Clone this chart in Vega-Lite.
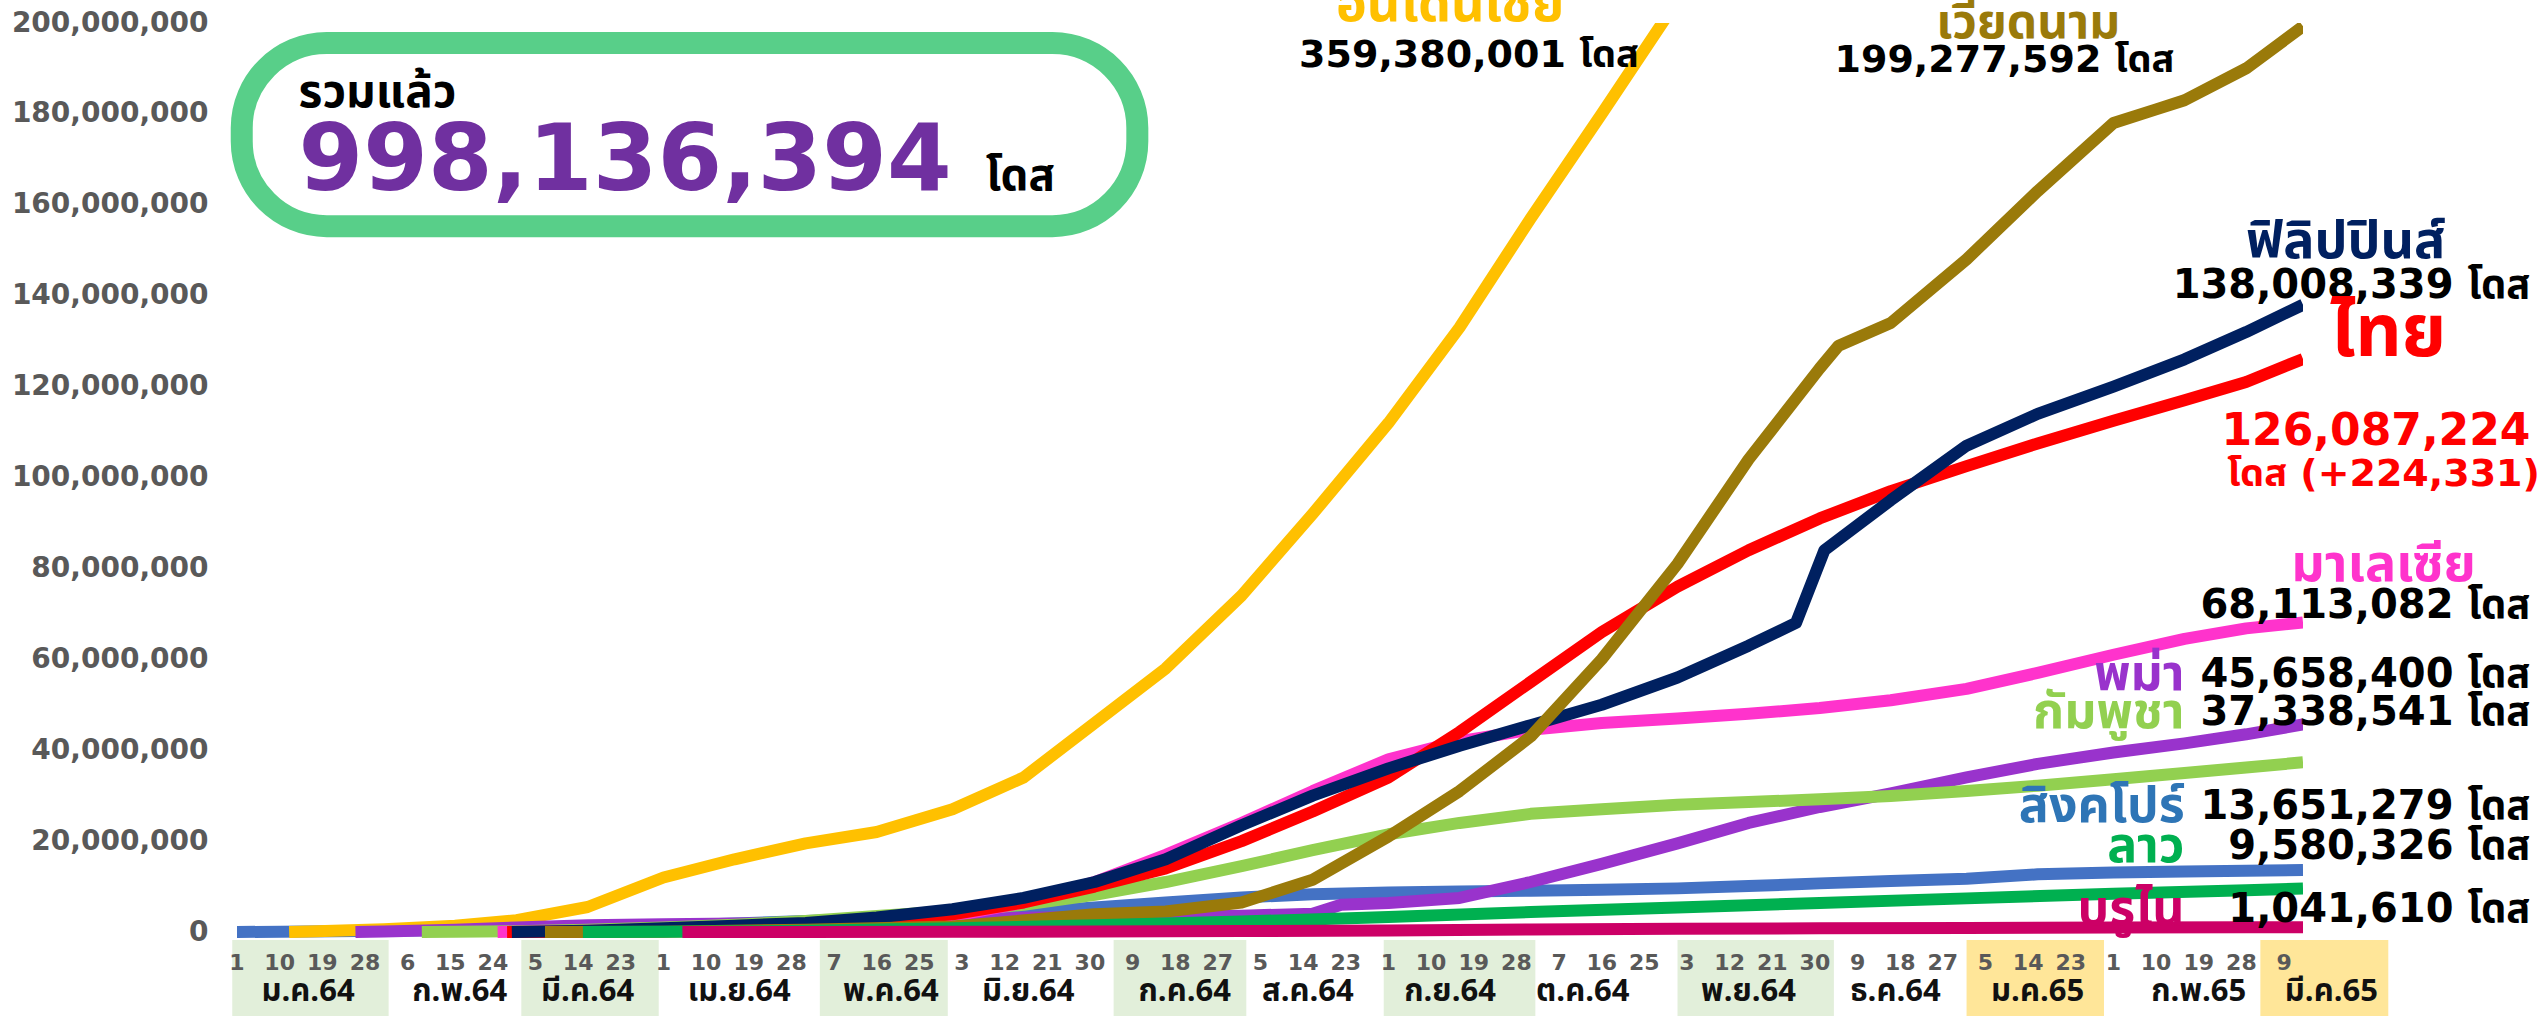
{
  "$schema": "https://vega.github.io/schema/vega-lite/v6.json",
  "width": 2066,
  "height": 993,
  "autosize": "none",
  "padding": {"left": 237, "top": 23, "right": 244, "bottom": 0},
  "background": "white",
  "config": {"view": {"stroke": null}, "font": "DejaVu Sans"},
  "layer": [
    {
      "data": {"values": [
        {"month": "ม.ค.64", "start": "2020-12-31", "end": "2021-02-02", "tone": "g"},
        {"month": "มี.ค.64", "start": "2021-03-02", "end": "2021-03-31", "tone": "g"},
        {"month": "พ.ค.64", "start": "2021-05-04", "end": "2021-05-31", "tone": "g"},
        {"month": "ก.ค.64", "start": "2021-07-05", "end": "2021-08-02", "tone": "g"},
        {"month": "ก.ย.64", "start": "2021-08-31", "end": "2021-10-02", "tone": "g"},
        {"month": "พ.ย.64", "start": "2021-11-01", "end": "2021-12-04", "tone": "g"},
        {"month": "ม.ค.65", "start": "2022-01-01", "end": "2022-01-30", "tone": "y"},
        {"month": "มี.ค.65", "start": "2022-03-04", "end": "2022-03-31", "tone": "y"}
      ]},
      "mark": {"type": "rect"},
      "encoding": {
        "x": {"field": "start", "type": "temporal",
              "scale": {"type": "utc", "domain": [{"year": 2021, "month": 1, "date": 1, "utc": true}, {"year": 2022, "month": 3, "date": 13, "utc": true}]},
              "axis": null},
        "x2": {"field": "end"},
        "y": {"datum": -1760000, "type": "quantitative",
              "scale": {"domain": [-18480000, 200000000], "nice": false, "zero": false},
              "axis": {"values": [0, 20000000, 40000000, 60000000, 80000000, 100000000, 120000000, 140000000, 160000000, 180000000, 200000000],
                       "format": ",d", "title": null, "domain": false, "ticks": false, "labelPadding": 29, "labelLimit": 400,
                       "labelFont": "DejaVu Sans", "labelFontWeight": "bold", "labelFontSize": 28, "labelColor": "#595959",
                       "gridColor": "#D9D9D9", "gridWidth": 3}},
        "y2": {"datum": -18480000},
        "fill": {"field": "tone", "type": "nominal", "scale": {"domain": ["g", "y"], "range": ["#E2EFDA", "#FFE699"]}, "legend": null}
      }
    },
    {
      "data": {"values": [
        {"date": "2021-01-01"}, {"date": "2021-01-10"}, {"date": "2021-01-19"}, {"date": "2021-01-28"},
        {"date": "2021-02-06"}, {"date": "2021-02-15"}, {"date": "2021-02-24"},
        {"date": "2021-03-05"}, {"date": "2021-03-14"}, {"date": "2021-03-23"},
        {"date": "2021-04-01"}, {"date": "2021-04-10"}, {"date": "2021-04-19"}, {"date": "2021-04-28"},
        {"date": "2021-05-07"}, {"date": "2021-05-16"}, {"date": "2021-05-25"},
        {"date": "2021-06-03"}, {"date": "2021-06-12"}, {"date": "2021-06-21"}, {"date": "2021-06-30"},
        {"date": "2021-07-09"}, {"date": "2021-07-18"}, {"date": "2021-07-27"},
        {"date": "2021-08-05"}, {"date": "2021-08-14"}, {"date": "2021-08-23"},
        {"date": "2021-09-01"}, {"date": "2021-09-10"}, {"date": "2021-09-19"}, {"date": "2021-09-28"},
        {"date": "2021-10-07"}, {"date": "2021-10-16"}, {"date": "2021-10-25"},
        {"date": "2021-11-03"}, {"date": "2021-11-12"}, {"date": "2021-11-21"}, {"date": "2021-11-30"},
        {"date": "2021-12-09"}, {"date": "2021-12-18"}, {"date": "2021-12-27"},
        {"date": "2022-01-05"}, {"date": "2022-01-14"}, {"date": "2022-01-23"},
        {"date": "2022-02-01"}, {"date": "2022-02-10"}, {"date": "2022-02-19"}, {"date": "2022-02-28"},
        {"date": "2022-03-09"}
      ]},
      "mark": {"type": "text", "font": "DejaVu Sans", "fontWeight": "bold", "fontSize": 22, "color": "#595959", "baseline": "middle", "align": "center"},
      "encoding": {
        "x": {"field": "date", "type": "temporal"},
        "y": {"datum": -6900000, "type": "quantitative"},
        "text": {"field": "date", "type": "temporal", "timeUnit": "utcyearmonthdate", "format": "%-d"}
      }
    },
    {
      "data": {"values": [
        {"month": "ม.ค.64", "mid": "2021-01-16"}, {"month": "ก.พ.64", "mid": "2021-02-17"},
        {"month": "มี.ค.64", "mid": "2021-03-16"}, {"month": "เม.ย.64", "mid": "2021-04-17"},
        {"month": "พ.ค.64", "mid": "2021-05-19"}, {"month": "มิ.ย.64", "mid": "2021-06-17"},
        {"month": "ก.ค.64", "mid": "2021-07-20"}, {"month": "ส.ค.64", "mid": "2021-08-15"},
        {"month": "ก.ย.64", "mid": "2021-09-14"}, {"month": "ต.ค.64", "mid": "2021-10-12"},
        {"month": "พ.ย.64", "mid": "2021-11-16"}, {"month": "ธ.ค.64", "mid": "2021-12-17"},
        {"month": "ม.ค.65", "mid": "2022-01-16"}, {"month": "ก.พ.65", "mid": "2022-02-19"},
        {"month": "มี.ค.65", "mid": "2022-03-19"}
      ]},
      "mark": {"type": "text", "font": "Noto Sans Thai, Noto Sans, DejaVu Sans, sans-serif", "fontWeight": "bold", "fontSize": 31, "color": "#111111", "baseline": "middle", "align": "center"},
      "encoding": {
        "x": {"field": "mid", "type": "temporal"},
        "y": {"datum": -13300000, "type": "quantitative"},
        "text": {"field": "month", "type": "nominal"}
      }
    },
    {
      "data": {"values": [
        {"country": "สิงคโปร์", "date": "2021-01-01", "doses": 0},
        {"country": "สิงคโปร์", "date": "2021-01-16", "doses": 120000},
        {"country": "สิงคโปร์", "date": "2021-02-01", "doses": 250000},
        {"country": "สิงคโปร์", "date": "2021-02-16", "doses": 450000},
        {"country": "สิงคโปร์", "date": "2021-03-01", "doses": 700000},
        {"country": "สิงคโปร์", "date": "2021-03-16", "doses": 1000000},
        {"country": "สิงคโปร์", "date": "2021-04-01", "doses": 1400000},
        {"country": "สิงคโปร์", "date": "2021-04-16", "doses": 1900000},
        {"country": "สิงคโปร์", "date": "2021-05-01", "doses": 2400000},
        {"country": "สิงคโปร์", "date": "2021-05-16", "doses": 2900000},
        {"country": "สิงคโปร์", "date": "2021-06-01", "doses": 3500000},
        {"country": "สิงคโปร์", "date": "2021-06-16", "doses": 4300000},
        {"country": "สิงคโปร์", "date": "2021-07-01", "doses": 5400000},
        {"country": "สิงคโปร์", "date": "2021-07-16", "doses": 6500000},
        {"country": "สิงคโปร์", "date": "2021-08-01", "doses": 7600000},
        {"country": "สิงคโปร์", "date": "2021-08-16", "doses": 8300000},
        {"country": "สิงคโปร์", "date": "2021-09-01", "doses": 8700000},
        {"country": "สิงคโปร์", "date": "2021-09-16", "doses": 8900000},
        {"country": "สิงคโปร์", "date": "2021-10-01", "doses": 9100000},
        {"country": "สิงคโปร์", "date": "2021-10-16", "doses": 9300000},
        {"country": "สิงคโปร์", "date": "2021-11-01", "doses": 9600000},
        {"country": "สิงคโปร์", "date": "2021-11-16", "doses": 10100000},
        {"country": "สิงคโปร์", "date": "2021-12-01", "doses": 10700000},
        {"country": "สิงคโปร์", "date": "2021-12-16", "doses": 11200000},
        {"country": "สิงคโปร์", "date": "2022-01-01", "doses": 11700000},
        {"country": "สิงคโปร์", "date": "2022-01-16", "doses": 12700000},
        {"country": "สิงคโปร์", "date": "2022-02-01", "doses": 13100000},
        {"country": "สิงคโปร์", "date": "2022-02-16", "doses": 13300000},
        {"country": "สิงคโปร์", "date": "2022-03-01", "doses": 13500000},
        {"country": "สิงคโปร์", "date": "2022-03-13", "doses": 13651279},
        {"country": "อินโดนีเซีย", "date": "2021-01-12", "doses": 0},
        {"country": "อินโดนีเซีย", "date": "2021-01-16", "doses": 100000},
        {"country": "อินโดนีเซีย", "date": "2021-02-01", "doses": 600000},
        {"country": "อินโดนีเซีย", "date": "2021-02-16", "doses": 1400000},
        {"country": "อินโดนีเซีย", "date": "2021-03-01", "doses": 2600000},
        {"country": "อินโดนีเซีย", "date": "2021-03-16", "doses": 5500000},
        {"country": "อินโดนีเซีย", "date": "2021-04-01", "doses": 12000000},
        {"country": "อินโดนีเซีย", "date": "2021-04-16", "doses": 16000000},
        {"country": "อินโดนีเซีย", "date": "2021-05-01", "doses": 19500000},
        {"country": "อินโดนีเซีย", "date": "2021-05-16", "doses": 22000000},
        {"country": "อินโดนีเซีย", "date": "2021-06-01", "doses": 27000000},
        {"country": "อินโดนีเซีย", "date": "2021-06-16", "doses": 34000000},
        {"country": "อินโดนีเซีย", "date": "2021-07-01", "doses": 46000000},
        {"country": "อินโดนีเซีย", "date": "2021-07-16", "doses": 58000000},
        {"country": "อินโดนีเซีย", "date": "2021-08-01", "doses": 74000000},
        {"country": "อินโดนีเซีย", "date": "2021-08-16", "doses": 92000000},
        {"country": "อินโดนีเซีย", "date": "2021-09-01", "doses": 112000000},
        {"country": "อินโดนีเซีย", "date": "2021-09-16", "doses": 133000000},
        {"country": "อินโดนีเซีย", "date": "2021-10-01", "doses": 157000000},
        {"country": "อินโดนีเซีย", "date": "2021-10-16", "doses": 180000000},
        {"country": "อินโดนีเซีย", "date": "2021-11-01", "doses": 205000000},
        {"country": "อินโดนีเซีย", "date": "2021-11-16", "doses": 222000000},
        {"country": "อินโดนีเซีย", "date": "2021-12-01", "doses": 240000000},
        {"country": "อินโดนีเซีย", "date": "2021-12-16", "doses": 259000000},
        {"country": "อินโดนีเซีย", "date": "2022-01-01", "doses": 280000000},
        {"country": "อินโดนีเซีย", "date": "2022-01-16", "doses": 297000000},
        {"country": "อินโดนีเซีย", "date": "2022-02-01", "doses": 314000000},
        {"country": "อินโดนีเซีย", "date": "2022-02-16", "doses": 330000000},
        {"country": "อินโดนีเซีย", "date": "2022-03-01", "doses": 346000000},
        {"country": "อินโดนีเซีย", "date": "2022-03-13", "doses": 359380001},
        {"country": "พม่า", "date": "2021-01-26", "doses": 0},
        {"country": "พม่า", "date": "2021-02-01", "doses": 100000},
        {"country": "พม่า", "date": "2021-02-16", "doses": 500000},
        {"country": "พม่า", "date": "2021-03-01", "doses": 1000000},
        {"country": "พม่า", "date": "2021-03-16", "doses": 1500000},
        {"country": "พม่า", "date": "2021-04-01", "doses": 1700000},
        {"country": "พม่า", "date": "2021-05-01", "doses": 2000000},
        {"country": "พม่า", "date": "2021-06-01", "doses": 3000000},
        {"country": "พม่า", "date": "2021-07-01", "doses": 3300000},
        {"country": "พม่า", "date": "2021-08-01", "doses": 3600000},
        {"country": "พม่า", "date": "2021-08-16", "doses": 4000000},
        {"country": "พม่า", "date": "2021-08-22", "doses": 6000000},
        {"country": "พม่า", "date": "2021-09-01", "doses": 6400000},
        {"country": "พม่า", "date": "2021-09-16", "doses": 7500000},
        {"country": "พม่า", "date": "2021-10-01", "doses": 11000000},
        {"country": "พม่า", "date": "2021-10-16", "doses": 15000000},
        {"country": "พม่า", "date": "2021-11-01", "doses": 19500000},
        {"country": "พม่า", "date": "2021-11-16", "doses": 24000000},
        {"country": "พม่า", "date": "2021-12-01", "doses": 27500000},
        {"country": "พม่า", "date": "2021-12-16", "doses": 30500000},
        {"country": "พม่า", "date": "2022-01-01", "doses": 34000000},
        {"country": "พม่า", "date": "2022-01-16", "doses": 37000000},
        {"country": "พม่า", "date": "2022-02-01", "doses": 39500000},
        {"country": "พม่า", "date": "2022-02-16", "doses": 41500000},
        {"country": "พม่า", "date": "2022-03-01", "doses": 43500000},
        {"country": "พม่า", "date": "2022-03-13", "doses": 45658400},
        {"country": "กัมพูชา", "date": "2021-02-09", "doses": 0},
        {"country": "กัมพูชา", "date": "2021-02-16", "doses": 50000},
        {"country": "กัมพูชา", "date": "2021-03-01", "doses": 150000},
        {"country": "กัมพูชา", "date": "2021-03-16", "doses": 500000},
        {"country": "กัมพูชา", "date": "2021-04-01", "doses": 1000000},
        {"country": "กัมพูชา", "date": "2021-04-16", "doses": 1600000},
        {"country": "กัมพูชา", "date": "2021-05-01", "doses": 2400000},
        {"country": "กัมพูชา", "date": "2021-05-16", "doses": 3500000},
        {"country": "กัมพูชา", "date": "2021-06-01", "doses": 4600000},
        {"country": "กัมพูชา", "date": "2021-06-16", "doses": 6000000},
        {"country": "กัมพูชา", "date": "2021-07-01", "doses": 8200000},
        {"country": "กัมพูชา", "date": "2021-07-16", "doses": 11000000},
        {"country": "กัมพูชา", "date": "2021-08-01", "doses": 14500000},
        {"country": "กัมพูชา", "date": "2021-08-16", "doses": 18000000},
        {"country": "กัมพูชา", "date": "2021-09-01", "doses": 21500000},
        {"country": "กัมพูชา", "date": "2021-09-16", "doses": 24000000},
        {"country": "กัมพูชา", "date": "2021-10-01", "doses": 26000000},
        {"country": "กัมพูชา", "date": "2021-10-16", "doses": 27000000},
        {"country": "กัมพูชา", "date": "2021-11-01", "doses": 28000000},
        {"country": "กัมพูชา", "date": "2021-11-16", "doses": 28600000},
        {"country": "กัมพูชา", "date": "2021-12-01", "doses": 29200000},
        {"country": "กัมพูชา", "date": "2021-12-16", "doses": 29900000},
        {"country": "กัมพูชา", "date": "2022-01-01", "doses": 31000000},
        {"country": "กัมพูชา", "date": "2022-01-16", "doses": 32200000},
        {"country": "กัมพูชา", "date": "2022-02-01", "doses": 33600000},
        {"country": "กัมพูชา", "date": "2022-02-16", "doses": 35000000},
        {"country": "กัมพูชา", "date": "2022-03-01", "doses": 36200000},
        {"country": "กัมพูชา", "date": "2022-03-13", "doses": 37338541},
        {"country": "มาเลเซีย", "date": "2021-02-25", "doses": 0},
        {"country": "มาเลเซีย", "date": "2021-03-01", "doses": 50000},
        {"country": "มาเลเซีย", "date": "2021-03-16", "doses": 300000},
        {"country": "มาเลเซีย", "date": "2021-04-01", "doses": 600000},
        {"country": "มาเลเซีย", "date": "2021-04-16", "doses": 900000},
        {"country": "มาเลเซีย", "date": "2021-05-01", "doses": 1400000},
        {"country": "มาเลเซีย", "date": "2021-05-16", "doses": 2200000},
        {"country": "มาเลเซีย", "date": "2021-06-01", "doses": 3500000},
        {"country": "มาเลเซีย", "date": "2021-06-16", "doses": 6500000},
        {"country": "มาเลเซีย", "date": "2021-07-01", "doses": 11000000},
        {"country": "มาเลเซีย", "date": "2021-07-16", "doses": 17000000},
        {"country": "มาเลเซีย", "date": "2021-08-01", "doses": 24000000},
        {"country": "มาเลเซีย", "date": "2021-08-16", "doses": 31000000},
        {"country": "มาเลเซีย", "date": "2021-09-01", "doses": 38000000},
        {"country": "มาเลเซีย", "date": "2021-09-16", "doses": 42000000},
        {"country": "มาเลเซีย", "date": "2021-10-01", "doses": 44500000},
        {"country": "มาเลเซีย", "date": "2021-10-16", "doses": 46000000},
        {"country": "มาเลเซีย", "date": "2021-11-01", "doses": 47000000},
        {"country": "มาเลเซีย", "date": "2021-11-16", "doses": 48000000},
        {"country": "มาเลเซีย", "date": "2021-12-01", "doses": 49300000},
        {"country": "มาเลเซีย", "date": "2021-12-16", "doses": 51000000},
        {"country": "มาเลเซีย", "date": "2022-01-01", "doses": 53500000},
        {"country": "มาเลเซีย", "date": "2022-01-16", "doses": 57000000},
        {"country": "มาเลเซีย", "date": "2022-02-01", "doses": 61000000},
        {"country": "มาเลเซีย", "date": "2022-02-16", "doses": 64500000},
        {"country": "มาเลเซีย", "date": "2022-03-01", "doses": 66800000},
        {"country": "มาเลเซีย", "date": "2022-03-13", "doses": 68113082},
        {"country": "ไทย", "date": "2021-02-27", "doses": 0},
        {"country": "ไทย", "date": "2021-03-16", "doses": 50000},
        {"country": "ไทย", "date": "2021-04-01", "doses": 150000},
        {"country": "ไทย", "date": "2021-04-16", "doses": 600000},
        {"country": "ไทย", "date": "2021-05-01", "doses": 1300000},
        {"country": "ไทย", "date": "2021-05-16", "doses": 2400000},
        {"country": "ไทย", "date": "2021-06-01", "doses": 3900000},
        {"country": "ไทย", "date": "2021-06-16", "doses": 6500000},
        {"country": "ไทย", "date": "2021-07-01", "doses": 10000000},
        {"country": "ไทย", "date": "2021-07-16", "doses": 14000000},
        {"country": "ไทย", "date": "2021-08-01", "doses": 20000000},
        {"country": "ไทย", "date": "2021-08-16", "doses": 26500000},
        {"country": "ไทย", "date": "2021-09-01", "doses": 34000000},
        {"country": "ไทย", "date": "2021-09-16", "doses": 44000000},
        {"country": "ไทย", "date": "2021-10-01", "doses": 55000000},
        {"country": "ไทย", "date": "2021-10-16", "doses": 66000000},
        {"country": "ไทย", "date": "2021-11-01", "doses": 76000000},
        {"country": "ไทย", "date": "2021-11-16", "doses": 84000000},
        {"country": "ไทย", "date": "2021-12-01", "doses": 91000000},
        {"country": "ไทย", "date": "2021-12-16", "doses": 97000000},
        {"country": "ไทย", "date": "2022-01-01", "doses": 102500000},
        {"country": "ไทย", "date": "2022-01-16", "doses": 107500000},
        {"country": "ไทย", "date": "2022-02-01", "doses": 112500000},
        {"country": "ไทย", "date": "2022-02-16", "doses": 117000000},
        {"country": "ไทย", "date": "2022-03-01", "doses": 121000000},
        {"country": "ไทย", "date": "2022-03-13", "doses": 126087224},
        {"country": "ฟิลิปปินส์", "date": "2021-02-28", "doses": 0},
        {"country": "ฟิลิปปินส์", "date": "2021-03-16", "doses": 300000},
        {"country": "ฟิลิปปินส์", "date": "2021-04-01", "doses": 800000},
        {"country": "ฟิลิปปินส์", "date": "2021-04-16", "doses": 1400000},
        {"country": "ฟิลิปปินส์", "date": "2021-05-01", "doses": 2000000},
        {"country": "ฟิลิปปินส์", "date": "2021-05-16", "doses": 3200000},
        {"country": "ฟิลิปปินส์", "date": "2021-06-01", "doses": 5000000},
        {"country": "ฟิลิปปินส์", "date": "2021-06-16", "doses": 7500000},
        {"country": "ฟิลิปปินส์", "date": "2021-07-01", "doses": 11000000},
        {"country": "ฟิลิปปินส์", "date": "2021-07-16", "doses": 16000000},
        {"country": "ฟิลิปปินส์", "date": "2021-08-01", "doses": 23500000},
        {"country": "ฟิลิปปินส์", "date": "2021-08-16", "doses": 30000000},
        {"country": "ฟิลิปปินส์", "date": "2021-09-01", "doses": 36000000},
        {"country": "ฟิลิปปินส์", "date": "2021-09-16", "doses": 41000000},
        {"country": "ฟิลิปปินส์", "date": "2021-10-01", "doses": 45500000},
        {"country": "ฟิลิปปินส์", "date": "2021-10-16", "doses": 50000000},
        {"country": "ฟิลิปปินส์", "date": "2021-11-01", "doses": 56000000},
        {"country": "ฟิลิปปินส์", "date": "2021-11-16", "doses": 63000000},
        {"country": "ฟิลิปปินส์", "date": "2021-11-26", "doses": 68000000},
        {"country": "ฟิลิปปินส์", "date": "2021-12-02", "doses": 84000000},
        {"country": "ฟิลิปปินส์", "date": "2021-12-16", "doses": 95000000},
        {"country": "ฟิลิปปินส์", "date": "2022-01-01", "doses": 107000000},
        {"country": "ฟิลิปปินส์", "date": "2022-01-16", "doses": 114000000},
        {"country": "ฟิลิปปินส์", "date": "2022-02-01", "doses": 120000000},
        {"country": "ฟิลิปปินส์", "date": "2022-02-16", "doses": 126000000},
        {"country": "ฟิลิปปินส์", "date": "2022-03-01", "doses": 132000000},
        {"country": "ฟิลิปปินส์", "date": "2022-03-13", "doses": 138008339},
        {"country": "เวียดนาม", "date": "2021-03-07", "doses": 0},
        {"country": "เวียดนาม", "date": "2021-04-01", "doses": 50000},
        {"country": "เวียดนาม", "date": "2021-05-01", "doses": 500000},
        {"country": "เวียดนาม", "date": "2021-06-01", "doses": 1200000},
        {"country": "เวียดนาม", "date": "2021-07-01", "doses": 3900000},
        {"country": "เวียดนาม", "date": "2021-07-16", "doses": 4500000},
        {"country": "เวียดนาม", "date": "2021-08-01", "doses": 6500000},
        {"country": "เวียดนาม", "date": "2021-08-16", "doses": 11500000},
        {"country": "เวียดนาม", "date": "2021-09-01", "doses": 21000000},
        {"country": "เวียดนาม", "date": "2021-09-16", "doses": 31000000},
        {"country": "เวียดนาม", "date": "2021-10-01", "doses": 43000000},
        {"country": "เวียดนาม", "date": "2021-10-16", "doses": 60000000},
        {"country": "เวียดนาม", "date": "2021-11-01", "doses": 81000000},
        {"country": "เวียดนาม", "date": "2021-11-16", "doses": 104000000},
        {"country": "เวียดนาม", "date": "2021-12-01", "doses": 124000000},
        {"country": "เวียดนาม", "date": "2021-12-05", "doses": 129000000},
        {"country": "เวียดนาม", "date": "2021-12-16", "doses": 134000000},
        {"country": "เวียดนาม", "date": "2022-01-01", "doses": 148000000},
        {"country": "เวียดนาม", "date": "2022-01-16", "doses": 163000000},
        {"country": "เวียดนาม", "date": "2022-02-01", "doses": 178000000},
        {"country": "เวียดนาม", "date": "2022-02-10", "doses": 181000000},
        {"country": "เวียดนาม", "date": "2022-02-16", "doses": 183000000},
        {"country": "เวียดนาม", "date": "2022-03-01", "doses": 190000000},
        {"country": "เวียดนาม", "date": "2022-03-13", "doses": 199277592},
        {"country": "ลาว", "date": "2021-03-15", "doses": 0},
        {"country": "ลาว", "date": "2021-04-01", "doses": 50000},
        {"country": "ลาว", "date": "2021-05-01", "doses": 250000},
        {"country": "ลาว", "date": "2021-06-01", "doses": 800000},
        {"country": "ลาว", "date": "2021-07-01", "doses": 1500000},
        {"country": "ลาว", "date": "2021-08-01", "doses": 2300000},
        {"country": "ลาว", "date": "2021-09-01", "doses": 3300000},
        {"country": "ลาว", "date": "2021-10-01", "doses": 4400000},
        {"country": "ลาว", "date": "2021-11-01", "doses": 5400000},
        {"country": "ลาว", "date": "2021-12-01", "doses": 6400000},
        {"country": "ลาว", "date": "2022-01-01", "doses": 7400000},
        {"country": "ลาว", "date": "2022-02-01", "doses": 8400000},
        {"country": "ลาว", "date": "2022-03-01", "doses": 9200000},
        {"country": "ลาว", "date": "2022-03-13", "doses": 9580326},
        {"country": "บรูไน", "date": "2021-04-05", "doses": 0},
        {"country": "บรูไน", "date": "2021-05-01", "doses": 20000},
        {"country": "บรูไน", "date": "2021-06-01", "doses": 50000},
        {"country": "บรูไน", "date": "2021-07-01", "doses": 100000},
        {"country": "บรูไน", "date": "2021-08-01", "doses": 200000},
        {"country": "บรูไน", "date": "2021-09-01", "doses": 350000},
        {"country": "บรูไน", "date": "2021-10-01", "doses": 550000},
        {"country": "บรูไน", "date": "2021-11-01", "doses": 700000},
        {"country": "บรูไน", "date": "2021-12-01", "doses": 820000},
        {"country": "บรูไน", "date": "2022-01-01", "doses": 900000},
        {"country": "บรูไน", "date": "2022-02-01", "doses": 970000},
        {"country": "บรูไน", "date": "2022-03-01", "doses": 1020000},
        {"country": "บรูไน", "date": "2022-03-13", "doses": 1041610}
      ]},
      "mark": {"type": "line", "clip": true, "strokeCap": "butt", "strokeJoin": "round"},
      "encoding": {
        "x": {"field": "date", "type": "temporal"},
        "y": {"field": "doses", "type": "quantitative"},
        "stroke": {"field": "country", "type": "nominal", "legend": null,
                   "scale": {"domain": ["สิงคโปร์", "อินโดนีเซีย", "พม่า", "กัมพูชา", "มาเลเซีย", "ไทย", "ฟิลิปปินส์", "เวียดนาม", "ลาว", "บรูไน"],
                             "range": ["#4472C4", "#FFC000", "#9933CC", "#92D050", "#FF33CC", "#FF0000", "#002060", "#9A7A0A", "#00B050", "#CC0066"]}},
        "strokeWidth": {"field": "country", "type": "nominal", "legend": null,
                        "scale": {"domain": ["สิงคโปร์", "อินโดนีเซีย", "พม่า", "กัมพูชา", "มาเลเซีย", "ไทย", "ฟิลิปปินส์", "เวียดนาม", "ลาว", "บรูไน"],
                                  "range": [12, 12, 12, 12, 12, 17, 12, 12, 12, 12]}}
      }
    },
    {
      "data": {"values": [{}]},
      "mark": {"type": "rect", "fill": "white", "stroke": "#58CF89", "strokeWidth": 22, "cornerRadius": 85},
      "encoding": {
        "x": {"datum": {"year": 2021, "month": 1, "date": 2, "utc": true}, "type": "temporal"},
        "x2": {"datum": {"year": 2021, "month": 7, "date": 10, "utc": true}},
        "y": {"datum": 195600000, "type": "quantitative"},
        "y2": {"datum": 155300000}
      }
    },
    {
      "data": {"values": [{}]},
      "mark": {"type": "text", "text": "รวมแล้ว", "font": "Noto Sans Thai, Noto Sans, sans-serif", "fontWeight": "bold", "fontSize": 46, "color": "#000000", "align": "left", "baseline": "middle"},
      "encoding": {"x": {"datum": {"year": 2021, "month": 1, "date": 14, "utc": true}, "type": "temporal"}, "y": {"datum": 184500000, "type": "quantitative"}}
    },
    {
      "data": {"values": [{}]},
      "mark": {"type": "text", "text": "998,136,394", "font": "DejaVu Sans", "fontWeight": "bold", "fontSize": 93, "color": "#7030A0", "align": "left", "baseline": "alphabetic"},
      "encoding": {"x": {"datum": {"year": 2021, "month": 1, "date": 14, "utc": true}, "type": "temporal"}, "y": {"datum": 163200000, "type": "quantitative"}}
    },
    {
      "data": {"values": [{}]},
      "mark": {"type": "text", "text": "โดส", "font": "Noto Sans Thai, Noto Sans, sans-serif", "fontWeight": "bold", "fontSize": 44, "color": "#000000", "align": "left", "baseline": "alphabetic"},
      "encoding": {"x": {"datum": {"year": 2021, "month": 6, "date": 8, "utc": true}, "type": "temporal"}, "y": {"datum": 163200000, "type": "quantitative"}}
    },
    {
      "data": {"values": [{}]},
      "mark": {"type": "text", "text": "อินโดนีเซีย", "font": "Noto Sans Thai, Noto Sans, sans-serif", "fontWeight": "bold", "fontSize": 52, "color": "#FFC000", "align": "center", "baseline": "middle"},
      "encoding": {"x": {"datum": {"year": 2021, "month": 9, "date": 14, "utc": true}, "type": "temporal"}, "y": {"datum": 204000000, "type": "quantitative"}}
    },
    {
      "data": {"values": [{}]},
      "mark": {"type": "text", "text": "359,380,001 โดส", "font": "DejaVu Sans, Noto Sans Thai, sans-serif", "fontWeight": "bold", "fontSize": 38, "color": "#000000", "align": "center", "baseline": "middle"},
      "encoding": {"x": {"datum": {"year": 2021, "month": 9, "date": 18, "utc": true}, "type": "temporal"}, "y": {"datum": 192800000, "type": "quantitative"}}
    },
    {
      "data": {"values": [{}]},
      "mark": {"type": "text", "text": "เวียดนาม", "font": "Noto Sans Thai, Noto Sans, sans-serif", "fontWeight": "bold", "fontSize": 48, "color": "#9A7A0A", "align": "center", "baseline": "middle"},
      "encoding": {"x": {"datum": {"year": 2022, "month": 1, "date": 14, "utc": true}, "type": "temporal"}, "y": {"datum": 199800000, "type": "quantitative"}}
    },
    {
      "data": {"values": [{}]},
      "mark": {"type": "text", "text": "199,277,592 โดส", "font": "DejaVu Sans, Noto Sans Thai, sans-serif", "fontWeight": "bold", "fontSize": 38, "color": "#000000", "align": "center", "baseline": "middle"},
      "encoding": {"x": {"datum": {"year": 2022, "month": 1, "date": 9, "utc": true}, "type": "temporal"}, "y": {"datum": 191600000, "type": "quantitative"}}
    },
    {
      "data": {"values": [{}]},
      "mark": {"type": "text", "text": "ฟิลิปปินส์", "font": "Noto Sans Thai, Noto Sans, sans-serif", "fontWeight": "bold", "fontSize": 52, "color": "#002060", "align": "center", "baseline": "middle"},
      "encoding": {"x": {"datum": {"year": 2022, "month": 3, "date": 22, "utc": true}, "type": "temporal"}, "y": {"datum": 151800000, "type": "quantitative"}}
    },
    {
      "data": {"values": [{}]},
      "mark": {"type": "text", "text": "138,008,339 โดส", "font": "DejaVu Sans, Noto Sans Thai, sans-serif", "fontWeight": "bold", "fontSize": 40, "color": "#000000", "align": "right", "baseline": "middle"},
      "encoding": {"x": {"datum": {"year": 2022, "month": 4, "date": 30, "utc": true}, "type": "temporal"}, "y": {"datum": 142100000, "type": "quantitative"}}
    },
    {
      "data": {"values": [{}]},
      "mark": {"type": "text", "text": "ไทย", "font": "Noto Sans Thai, Noto Sans, sans-serif", "fontWeight": "bold", "fontSize": 72, "color": "#FF0000", "align": "center", "baseline": "middle"},
      "encoding": {"x": {"datum": {"year": 2022, "month": 3, "date": 31, "utc": true}, "type": "temporal"}, "y": {"datum": 131500000, "type": "quantitative"}}
    },
    {
      "data": {"values": [{}]},
      "mark": {"type": "text", "text": "126,087,224", "font": "DejaVu Sans", "fontWeight": "bold", "fontSize": 44, "color": "#FF0000", "align": "right", "baseline": "middle"},
      "encoding": {"x": {"datum": {"year": 2022, "month": 4, "date": 30, "utc": true}, "type": "temporal"}, "y": {"datum": 110000000, "type": "quantitative"}}
    },
    {
      "data": {"values": [{}]},
      "mark": {"type": "text", "text": "โดส (+224,331)", "font": "DejaVu Sans, Noto Sans Thai, sans-serif", "fontWeight": "bold", "fontSize": 38, "color": "#FF0000", "align": "right", "baseline": "middle"},
      "encoding": {"x": {"datum": {"year": 2022, "month": 5, "date": 2, "utc": true}, "type": "temporal"}, "y": {"datum": 100600000, "type": "quantitative"}}
    },
    {
      "data": {"values": [{}]},
      "mark": {"type": "text", "text": "มาเลเซีย", "font": "Noto Sans Thai, Noto Sans, sans-serif", "fontWeight": "bold", "fontSize": 52, "color": "#FF33CC", "align": "center", "baseline": "middle"},
      "encoding": {"x": {"datum": {"year": 2022, "month": 3, "date": 30, "utc": true}, "type": "temporal"}, "y": {"datum": 80800000, "type": "quantitative"}}
    },
    {
      "data": {"values": [{}]},
      "mark": {"type": "text", "text": "68,113,082 โดส", "font": "DejaVu Sans, Noto Sans Thai, sans-serif", "fontWeight": "bold", "fontSize": 40, "color": "#000000", "align": "right", "baseline": "middle"},
      "encoding": {"x": {"datum": {"year": 2022, "month": 4, "date": 30, "utc": true}, "type": "temporal"}, "y": {"datum": 71700000, "type": "quantitative"}}
    },
    {
      "data": {"values": [{}]},
      "mark": {"type": "text", "text": "พม่า", "font": "Noto Sans Thai, Noto Sans, sans-serif", "fontWeight": "bold", "fontSize": 50, "color": "#9933CC", "align": "right", "baseline": "middle"},
      "encoding": {"x": {"datum": {"year": 2022, "month": 2, "date": 16, "utc": true}, "type": "temporal"}, "y": {"datum": 56500000, "type": "quantitative"}}
    },
    {
      "data": {"values": [{}]},
      "mark": {"type": "text", "text": "45,658,400 โดส", "font": "DejaVu Sans, Noto Sans Thai, sans-serif", "fontWeight": "bold", "fontSize": 40, "color": "#000000", "align": "right", "baseline": "middle"},
      "encoding": {"x": {"datum": {"year": 2022, "month": 4, "date": 30, "utc": true}, "type": "temporal"}, "y": {"datum": 56500000, "type": "quantitative"}}
    },
    {
      "data": {"values": [{}]},
      "mark": {"type": "text", "text": "กัมพูชา", "font": "Noto Sans Thai, Noto Sans, sans-serif", "fontWeight": "bold", "fontSize": 50, "color": "#92D050", "align": "right", "baseline": "middle"},
      "encoding": {"x": {"datum": {"year": 2022, "month": 2, "date": 16, "utc": true}, "type": "temporal"}, "y": {"datum": 48200000, "type": "quantitative"}}
    },
    {
      "data": {"values": [{}]},
      "mark": {"type": "text", "text": "37,338,541 โดส", "font": "DejaVu Sans, Noto Sans Thai, sans-serif", "fontWeight": "bold", "fontSize": 40, "color": "#000000", "align": "right", "baseline": "middle"},
      "encoding": {"x": {"datum": {"year": 2022, "month": 4, "date": 30, "utc": true}, "type": "temporal"}, "y": {"datum": 48200000, "type": "quantitative"}}
    },
    {
      "data": {"values": [{}]},
      "mark": {"type": "text", "text": "สิงคโปร์", "font": "Noto Sans Thai, Noto Sans, sans-serif", "fontWeight": "bold", "fontSize": 50, "color": "#2E75B6", "align": "right", "baseline": "middle"},
      "encoding": {"x": {"datum": {"year": 2022, "month": 2, "date": 16, "utc": true}, "type": "temporal"}, "y": {"datum": 27500000, "type": "quantitative"}}
    },
    {
      "data": {"values": [{}]},
      "mark": {"type": "text", "text": "13,651,279 โดส", "font": "DejaVu Sans, Noto Sans Thai, sans-serif", "fontWeight": "bold", "fontSize": 40, "color": "#000000", "align": "right", "baseline": "middle"},
      "encoding": {"x": {"datum": {"year": 2022, "month": 4, "date": 30, "utc": true}, "type": "temporal"}, "y": {"datum": 27500000, "type": "quantitative"}}
    },
    {
      "data": {"values": [{}]},
      "mark": {"type": "text", "text": "ลาว", "font": "Noto Sans Thai, Noto Sans, sans-serif", "fontWeight": "bold", "fontSize": 50, "color": "#00B050", "align": "right", "baseline": "middle"},
      "encoding": {"x": {"datum": {"year": 2022, "month": 2, "date": 16, "utc": true}, "type": "temporal"}, "y": {"datum": 18700000, "type": "quantitative"}}
    },
    {
      "data": {"values": [{}]},
      "mark": {"type": "text", "text": "9,580,326 โดส", "font": "DejaVu Sans, Noto Sans Thai, sans-serif", "fontWeight": "bold", "fontSize": 40, "color": "#000000", "align": "right", "baseline": "middle"},
      "encoding": {"x": {"datum": {"year": 2022, "month": 4, "date": 30, "utc": true}, "type": "temporal"}, "y": {"datum": 18700000, "type": "quantitative"}}
    },
    {
      "data": {"values": [{}]},
      "mark": {"type": "text", "text": "บรูไน", "font": "Noto Sans Thai, Noto Sans, sans-serif", "fontWeight": "bold", "fontSize": 50, "color": "#CC0066", "align": "right", "baseline": "middle"},
      "encoding": {"x": {"datum": {"year": 2022, "month": 2, "date": 16, "utc": true}, "type": "temporal"}, "y": {"datum": 4800000, "type": "quantitative"}}
    },
    {
      "data": {"values": [{}]},
      "mark": {"type": "text", "text": "1,041,610 โดส", "font": "DejaVu Sans, Noto Sans Thai, sans-serif", "fontWeight": "bold", "fontSize": 40, "color": "#000000", "align": "right", "baseline": "middle"},
      "encoding": {"x": {"datum": {"year": 2022, "month": 4, "date": 30, "utc": true}, "type": "temporal"}, "y": {"datum": 4800000, "type": "quantitative"}}
    }
  ]
}
